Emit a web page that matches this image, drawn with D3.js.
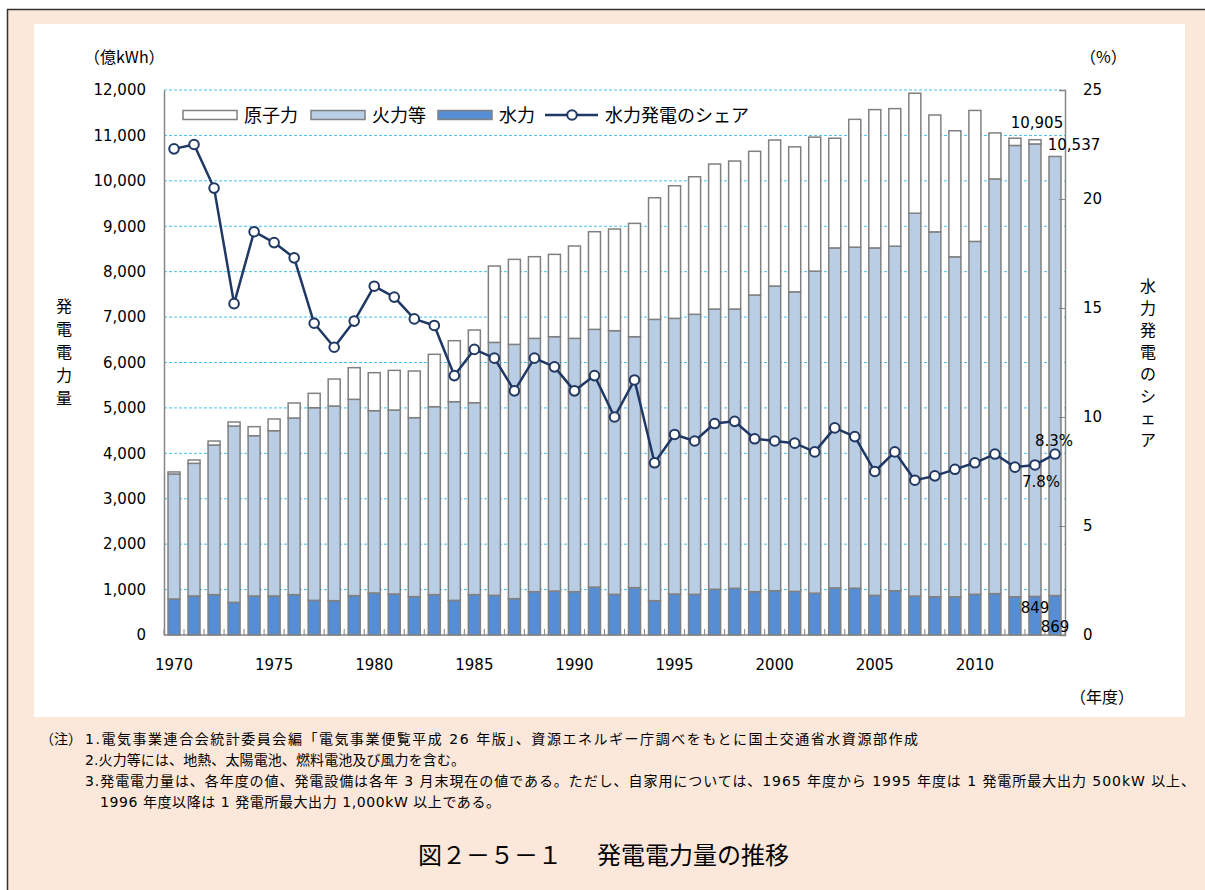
<!DOCTYPE html>
<html>
<head>
<meta charset="utf-8">
<script src="https://cdn.jsdelivr.net/npm/d3@7"></script>
<style>
  body { margin: 0; background: #fff; }
  text { font-family: "DejaVu Sans", "Noto Sans CJK JP", sans-serif; fill: #000; }
  .jp { font-family: "Noto Sans CJK JP", sans-serif; }
</style>
</head>
<body>
<script>
// fiscal years
var years = [1970,1971,1972,1973,1974,1975,1976,1977,1978,1979,
             1980,1981,1982,1983,1984,1985,1986,1987,1988,1989,
             1990,1991,1992,1993,1994,1995,1996,1997,1998,1999,
             2000,2001,2002,2003,2004,2005,2006,2007,2008,2009,
             2010,2011,2012,2013,2014];

// 億kWh
var hydro = [793,859,888,719,859,859,888,763,756,866,
             925,903,844,888,763,888,873,800,954,968,
             954,1055,895,1042,756,902,895,1006,1028,953,
             975,960,920,1037,1030,872,975,857,841,841,
             896,911,841,849,869];
var thermal = [2752,2921,3295,3882,3529,3639,3890,4242,4286,4323,
               4014,4051,3941,4139,4374,4227,5570,5599,5578,5600,
               5578,5675,5805,5526,6194,6070,6166,6171,6149,6533,
               6709,6596,7092,7486,7510,7651,7587,8430,8036,7486,
               7770,9131,9938,9963,9668];
var nuclear = [45,73,88,89,199,258,330,316,594,697,
               837,873,1027,1153,1343,1600,1681,1872,1798,1813,
               2033,2150,2239,2495,2678,2920,3029,3193,3259,3164,
               3214,3192,2950,2415,2814,3045,3028,2642,2572,2776,
               2884,1013,159,93,0];
// 水力発電のシェア (%)
var share = [22.3,22.5,20.5,15.2,18.5,18.0,17.3,14.3,13.2,14.4,
             16.0,15.5,14.5,14.2,11.9,13.1,12.7,11.2,12.7,12.3,
             11.2,11.9,10.0,11.7,7.9,9.2,8.9,9.7,9.8,9.0,
             8.9,8.8,8.4,9.5,9.1,7.5,8.4,7.1,7.3,7.6,
             7.9,8.3,7.7,7.8,8.3];

var legendNames = ["原子力", "火力等", "水力", "水力発電のシェア"];
var leftTicks = [0,1000,2000,3000,4000,5000,6000,7000,8000,9000,10000,11000,12000];
var rightTicks = [0,5,10,15,20,25];
var xTickYears = [1970,1975,1980,1985,1990,1995,2000,2005,2010];
var leftTitle = "発電電力量";
var rightTitle = "水力発電のシェア";
var notes = [
  "1.電気事業連合会統計委員会編「電気事業便覧平成 26 年版」、資源エネルギー庁調べをもとに国土交通省水資源部作成",
  "2.火力等には、地熱、太陽電池、燃料電池及び風力を含む。",
  "3.発電電力量は、各年度の値、発電設備は各年 3 月末現在の値である。ただし、自家用については、1965 年度から 1995 年度は 1 発電所最大出力 500kW 以上、",
  "1996 年度以降は 1 発電所最大出力 1,000kW 以上である。"
];

var data = years.map(function(y, i){
  return {year: y, hydro: hydro[i], thermal: thermal[i], nuclear: nuclear[i], share: share[i]};
});

var W = 1205, H = 890;
var svg = d3.select("body").append("svg").attr("width", W).attr("height", H);

// frame
svg.append("rect").attr("x", 7.5).attr("y", 9.5).attr("width", W + 10).attr("height", H + 10)
   .attr("fill", "#fce8da").attr("stroke", "#333").attr("stroke-width", 1.5);
svg.append("rect").attr("x", 34).attr("y", 24).attr("width", 1151).attr("height", 693).attr("fill", "#fff");

var plot = {left: 164, right: 1065, top: 90, bottom: 635};

var x = d3.scaleBand().domain(years).range([plot.left, plot.right]).paddingInner(0.4).paddingOuter(0.2);
var y = d3.scaleLinear().domain([0, 12000]).range([plot.bottom, plot.top]);
var y2 = d3.scaleLinear().domain([0, 25]).range([plot.bottom, plot.top]);

// gridlines
svg.append("g").selectAll("line").data(leftTicks.filter(function(d){ return d > 0; }))
  .enter().append("line")
  .attr("x1", plot.left).attr("x2", plot.right)
  .attr("y1", function(d){ return y(d); }).attr("y2", function(d){ return y(d); })
  .attr("stroke", "#45c0ee").attr("stroke-width", 1).attr("stroke-dasharray", "3,2");

// stacked bars
var stack = d3.stack().keys(["hydro", "thermal", "nuclear"]);
var colors = {hydro: "#558ed5", thermal: "#b9cde5", nuclear: "#ffffff"};
var layers = stack(data);

svg.append("g").selectAll("g").data(layers).enter().append("g")
  .attr("fill", function(d){ return colors[d.key]; })
  .selectAll("rect").data(function(d){ return d; }).enter().append("rect")
  .attr("x", function(d){ return x(d.data.year); })
  .attr("width", x.bandwidth())
  .attr("y", function(d){ return y(d[1]); })
  .attr("height", function(d){ return y(d[0]) - y(d[1]); })
  .attr("stroke", "#808080").attr("stroke-width", 1.5)
  .style("display", function(d){ return d[1] - d[0] > 0 ? null : "none"; });

// axes
var xAxis = svg.append("g").attr("transform", "translate(0," + plot.bottom + ")");
xAxis.append("line").attr("x1", plot.left).attr("x2", plot.right).attr("stroke", "#868686").attr("stroke-width", 1.5);
xAxis.selectAll(".tk").data(years.concat([2015])).enter().append("line")
  .attr("x1", function(d, i){ return i < years.length ? x(d) - x.step() * 0.2 : plot.right; })
  .attr("x2", function(d, i){ return i < years.length ? x(d) - x.step() * 0.2 : plot.right; })
  .attr("y1", 0).attr("y2", -6).attr("stroke", "#868686").attr("stroke-width", 1);
xAxis.selectAll("text").data(xTickYears).enter().append("text")
  .attr("x", function(d){ return x(d) + x.bandwidth() / 2; })
  .attr("y", 35).attr("text-anchor", "middle").style("font-size", "15px")
  .text(function(d){ return d; });

var yAxisL = svg.append("g").attr("transform", "translate(" + plot.left + ",0)")
  .call(d3.axisLeft(y).tickValues(leftTicks).tickSize(0).tickPadding(18).tickFormat(d3.format(",")));
yAxisL.select(".domain").attr("stroke", "#868686").attr("stroke-width", 1.5);
yAxisL.selectAll("text").style("font-size", "15px").attr("fill", "#000")
  .style("font-family", "'DejaVu Sans', sans-serif");

var yAxisR = svg.append("g").attr("transform", "translate(" + plot.right + ",0)")
  .call(d3.axisRight(y2).tickValues(rightTicks).tickSize(-6).tickPadding(18));
yAxisR.select(".domain").attr("stroke", "#868686").attr("stroke-width", 1.5);
yAxisR.selectAll(".tick line").attr("stroke", "#868686");
yAxisR.selectAll("text").style("font-size", "15px").attr("fill", "#000")
  .style("font-family", "'DejaVu Sans', sans-serif");

// share line
var line = d3.line().x(function(d){ return x(d.year) + x.bandwidth() / 2; }).y(function(d){ return y2(d.share); });
svg.append("path").datum(data).attr("d", line)
  .attr("fill", "none").attr("stroke", "#1f3864").attr("stroke-width", 2.5).attr("stroke-linejoin", "round");
svg.append("g").selectAll("circle").data(data).enter().append("circle")
  .attr("cx", function(d){ return x(d.year) + x.bandwidth() / 2; })
  .attr("cy", function(d){ return y2(d.share); })
  .attr("r", 4.8).attr("fill", "#fff").attr("stroke", "#1f3864").attr("stroke-width", 2);

// data labels
function cx(yr){ return x(yr) + x.bandwidth() / 2; }
var last = data[data.length - 1], prev = data[data.length - 2];
var total = function(d){ return d.hydro + d.thermal + d.nuclear; };
var lbl = svg.append("g").style("font-size", "15px");
lbl.append("text").attr("x", cx(prev.year) + 2).attr("y", y(total(prev)) - 12).attr("text-anchor", "middle").text(d3.format(",")(total(prev)));
lbl.append("text").attr("x", cx(last.year) + 19).attr("y", y(total(last)) - 6).attr("text-anchor", "middle").text(d3.format(",")(total(last)));
lbl.append("text").attr("x", cx(last.year) - 1).attr("y", y2(last.share) - 8).attr("text-anchor", "middle").text(last.share + "%");
lbl.append("text").attr("x", cx(prev.year) + 6).attr("y", y2(prev.share) + 22).attr("text-anchor", "middle").text(prev.share + "%");
lbl.append("text").attr("x", cx(prev.year)).attr("y", y(prev.hydro) + 17).attr("text-anchor", "middle").text(prev.hydro);
lbl.append("text").attr("x", cx(last.year)).attr("y", y(last.hydro) + 36).attr("text-anchor", "middle").text(last.hydro);

// legend
var lg = svg.append("g").attr("transform", "translate(183,115)");
var sw = [{fill: "#ffffff", x: 0}, {fill: "#b9cde5", x: 128}, {fill: "#558ed5", x: 255}];
sw.forEach(function(s, i){
  lg.append("rect").attr("x", s.x).attr("y", -4.5).attr("width", 54).attr("height", 9)
    .attr("fill", s.fill).attr("stroke", "#808080").attr("stroke-width", 1.5);
  lg.append("text").attr("class", "jp").attr("x", s.x + 61).attr("y", 7).style("font-size", "18px").text(legendNames[i]);
});
lg.append("line").attr("x1", 362).attr("x2", 415).attr("y1", 0).attr("y2", 0).attr("stroke", "#1f3864").attr("stroke-width", 2.5);
lg.append("circle").attr("cx", 389).attr("cy", 0).attr("r", 4.8).attr("fill", "#fff").attr("stroke", "#1f3864").attr("stroke-width", 2);
lg.append("text").attr("class", "jp").attr("x", 422).attr("y", 7).style("font-size", "18px").text(legendNames[3]);

// axis titles
svg.append("text").attr("class", "jp").attr("x", 84).attr("y", 63).style("font-size", "16px").text("（億kWh）");
svg.append("text").attr("class", "jp").attr("x", 1080).attr("y", 63).style("font-size", "16px").text("（%）");
svg.append("text").attr("class", "jp").attr("x", 1070).attr("y", 703).style("font-size", "16px").text("（年度）");

svg.append("g").selectAll("text").data(leftTitle.split("")).enter().append("text")
  .attr("class", "jp").attr("x", 64).attr("y", function(d, i){ return 305 + i * 23; })
  .attr("text-anchor", "middle").attr("dominant-baseline", "central").style("font-size", "16px")
  .text(function(d){ return d; });
svg.append("g").selectAll("text").data(rightTitle.split("")).enter().append("text")
  .attr("class", "jp").attr("x", 1148).attr("y", function(d, i){ return 285 + i * 22; })
  .attr("text-anchor", "middle").attr("dominant-baseline", "central").style("font-size", "16px")
  .text(function(d){ return d; });

// notes
var nt = svg.append("g").style("font-size", "14px");
nt.append("text").attr("class", "jp").attr("x", 40).attr("y", 744).text("（注）");
var noteX = [85, 85, 85, 100], noteY = [744, 765, 786, 807];
var noteLen = [833, 380, 1110, 400];
notes.forEach(function(s, i){
  nt.append("text").attr("x", noteX[i]).attr("y", noteY[i])
    .attr("textLength", noteLen[i]).attr("lengthAdjust", "spacing").text(s);
});

// caption
svg.append("text").attr("class", "jp").attr("x", 418).attr("y", 864).style("font-size", "24px").text("図２－５－１");
svg.append("text").attr("class", "jp").attr("x", 597).attr("y", 864).style("font-size", "24px").text("発電電力量の推移");
</script>
</body>
</html>
